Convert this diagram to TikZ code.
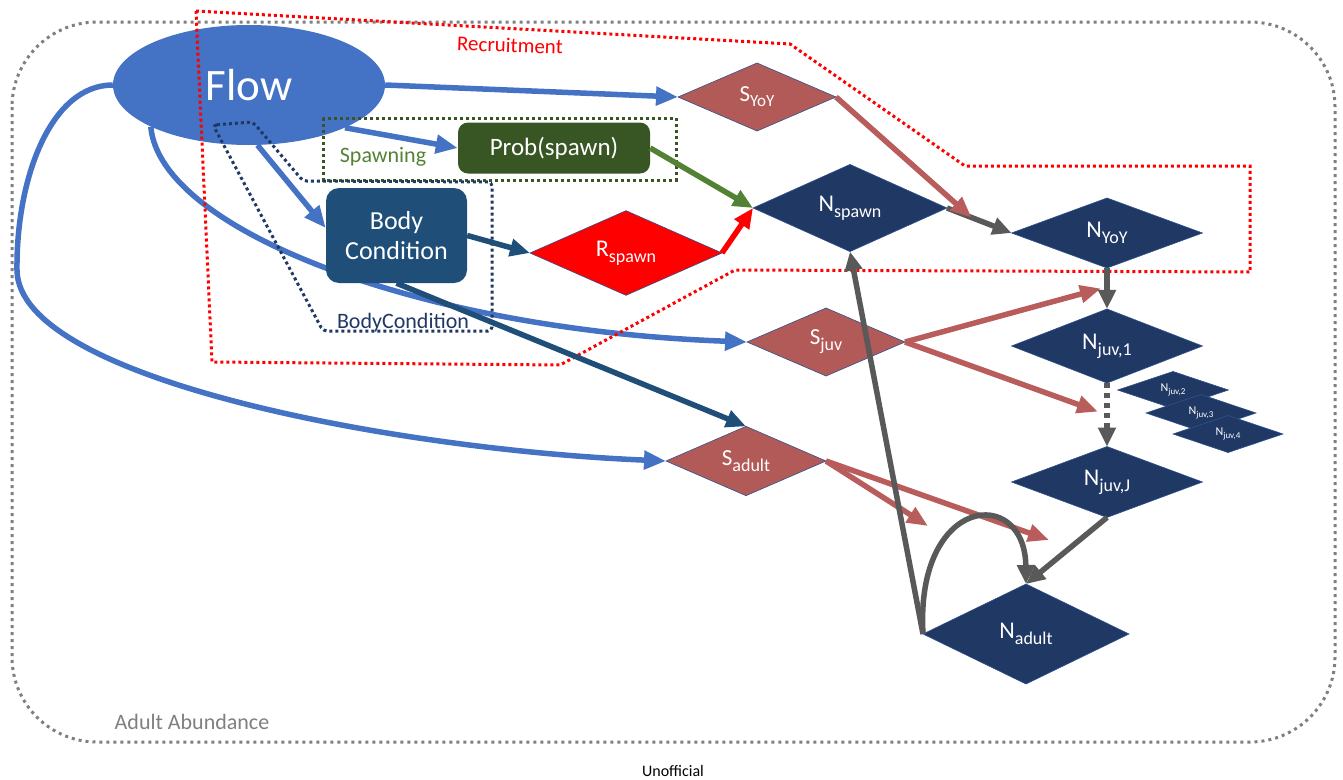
\documentclass[tikz,border=0pt]{standalone}
\usepackage{fontspec}
\setmainfont{Carlito}
\usetikzlibrary{shapes.geometric,arrows.meta,calc}
\pgfdeclarelayer{bg}
\pgfsetlayers{bg,main}
\definecolor{flowblue}{HTML}{4472C4}
\definecolor{bcblue}{HTML}{1F4E79}
\definecolor{navyfill}{HTML}{203864}
\definecolor{probgreen}{HTML}{375623}
\definecolor{lgreen}{HTML}{548235}
\definecolor{sred}{HTML}{B25A58}
\definecolor{arrred}{HTML}{B85C5C}
\definecolor{ggray}{HTML}{595959}
\definecolor{outl}{HTML}{2F528F}
\definecolor{dotgray}{HTML}{7F7F7F}
\newcommand{\vsub}[5]{{\fontsize{#1pt}{#1pt}\selectfont #3}\raisebox{#5}{\fontsize{#2pt}{#2pt}\selectfont #4}}
\begin{document}
\begin{tikzpicture}[x=1pt,y=-1pt,
  diam/.style={diamond, inner sep=0pt, outer sep=0pt, text=white, draw=outl, line width=0.6pt},
  sdiam/.style={diam, fill=sred},
  ndiam/.style={diam, fill=navyfill},
  barrow/.style={draw=flowblue, line width=5.5pt, -{Triangle[length=22pt,width=18pt]}},
  bcarrow/.style={draw=bcblue, line width=5.5pt, -{Triangle[length=20pt,width=17pt]}},
  garrow/.style={draw=ggray, line width=5.5pt, -{Triangle[length=19pt,width=17pt]}},
  rarrow/.style={draw=arrred, line width=5.5pt, -{Triangle[length=21pt,width=17pt]}},
  grnarrow/.style={draw=lgreen, line width=5.5pt, -{Triangle[length=20pt,width=17pt]}},
  redarrow/.style={draw=red, line width=5.5pt, -{Triangle[length=20pt,width=17pt]}},
  dotline/.style={line width=3pt, dash pattern=on 3pt off 3pt},
  lbl/.style={inner sep=0pt}
]
\useasboundingbox (0,0) rectangle (1343,779);

% nodes
\node[ellipse, fill=flowblue, minimum width=272pt, minimum height=120pt, inner sep=0pt, text=white,
      font=\fontsize{45}{45}\selectfont] (flow) at (249,85) {Flow};
\node[rectangle, rounded corners=10pt, fill=probgreen, minimum width=192pt, minimum height=51pt,
      inner sep=0pt, text=white, font=\fontsize{25}{25}\selectfont] (prob) at (554,148) {Prob(spawn)};
\node[rectangle, rounded corners=13pt, fill=bcblue, minimum width=141pt, minimum height=95pt,
      inner sep=0pt, text=white, align=center, font=\fontsize{26}{30}\selectfont] (bc) at (396.5,235.5) {Body\\Condition};

\node[sdiam, minimum width=158pt, minimum height=68pt] (syoy) at (757,97) {\vsub{23}{17}{S}{YoY}{-5pt}};
\node[ndiam, minimum width=194pt, minimum height=68pt] (nspawn) at (850,208) {\vsub{24}{18}{N}{spawn}{-6pt}};
\node[ndiam, minimum width=191pt, minimum height=70pt] (nyoy) at (1107,233) {\vsub{24}{18}{N}{YoY}{-6pt}};
\node[diam, fill=red, minimum width=192pt, minimum height=68pt] (rspawn) at (626,253) {\vsub{24}{18}{R}{spawn}{-6pt}};
\node[sdiam, minimum width=158pt, minimum height=68pt] (sjuv) at (826,342) {\vsub{23}{18}{S}{juv}{-6pt}};
\node[ndiam, minimum width=191pt, minimum height=66pt] (njuv1) at (1107,346) {\vsub{24}{18}{N}{juv,1}{-6pt}};
\node[ndiam, minimum width=191pt, minimum height=70pt] (njuvj) at (1107,482) {\vsub{24}{18}{N}{juv,J}{-6pt}};
\node[sdiam, minimum width=160pt, minimum height=67pt] (sadult) at (746,461) {\vsub{23}{18}{S}{adult}{-6pt}};
\node[ndiam, minimum width=206pt, minimum height=100pt] (nadult) at (1026,634) {\vsub{24}{18}{N}{adult}{-6pt}};
\node[ndiam, minimum width=111pt, minimum height=27pt] (nj2) at (1173,390) {\vsub{12}{9}{N}{juv,2}{-3pt}};
\node[ndiam, minimum width=110pt, minimum height=27pt] (nj3) at (1201,413) {\vsub{12}{9}{N}{juv,3}{-3pt}};
\node[ndiam, minimum width=110pt, minimum height=27pt] (nj4) at (1228,434) {\vsub{12}{9}{N}{juv,4}{-3pt}};

% group outlines
\draw[dotgray, line width=3pt, dash pattern=on 3pt off 4pt, rounded corners=85pt] (12,22) rectangle (1335,742);
\draw[red, dotline] (196,11) -- (790,44) -- (965,166) -- (1250,166) -- (1250,272) -- (735,270) -- (560,365) -- (212,362) -- cycle;
\draw[probgreen, dotline] (323,118) rectangle (676,180);
\draw[navyfill, dotline, rounded corners=4pt] (213,125) -- (253,122) -- (303,181) -- (492,182) -- (492,331) -- (323,331) -- cycle;

% labels
\node[lbl, text=red, rotate=-2, font=\fontsize{21}{21}\selectfont] (reclbl) at (510,45) {Recruitment};
\node[lbl, text=lgreen, font=\fontsize{22}{22}\selectfont] (spawnlbl) at (383,157) {Spawning};
\node[lbl, text=navyfill, font=\fontsize{22}{22}\selectfont] (bclbl) at (403,323) {BodyCondition};
\node[lbl, text=dotgray, font=\fontsize{22}{22}\selectfont] (aalbl) at (192,722) {Adult Abundance};
\node[lbl, text=black, font=\fontsize{16}{16}\selectfont] (unoff) at (673,771) {Unofficial};

% arrows from Flow (behind)
\begin{pgfonlayer}{bg}
\draw[barrow] (flow.east) -- (syoy.west);
\draw[barrow] (flow.-24) -- (prob.west);
\draw[barrow] (flow.-82) -- (bc.174);
\draw[barrow] (flow.203) .. controls (160,230) and (420,330) .. (sjuv.west);
\draw[barrow] (flow.west) .. controls (50,85) and (16,180) .. (17,270) .. controls (18,380) and (400,450) .. (sadult.west);
\end{pgfonlayer}

% other arrows
\coordinate (m1) at ($(nspawn.east)!0.38!(nyoy.west)$);
\coordinate (m2) at ($(nyoy.south)!0.5!(njuv1.north)+(-6,0)$);
\coordinate (m3) at ($(njuv1.south)!0.45!(njuvj.north)+(-9,0)$);
\coordinate (m4) at (928,526);
\coordinate (m5) at (1049,540);

\draw[bcarrow] (bc.east) -- (rspawn.west);
\draw[bcarrow] (bc.south) -- (sadult.north);
\draw[grnarrow] (prob.east) -- (nspawn.west);
\draw[redarrow] (rspawn.east) -- (nspawn.west);

\draw[rarrow] (sjuv.east) -- (m2);
\draw[rarrow] (sjuv.east) -- (m3);
\draw[rarrow] (sadult.east) -- (m4);
\draw[rarrow] (sadult.east) -- (m5);

\draw[garrow] (nspawn.east) -- (nyoy.west);
\draw[rarrow] (syoy.east) -- (m1);
\draw[garrow] (nyoy.south) -- (njuv1.north);
\draw[garrow, dash pattern=on 5pt off 5pt] (njuv1.south) -- (njuvj.north);
\draw[garrow] (njuvj.south) -- (nadult.north);
\draw[garrow] (nadult.west) -- (nspawn.south);
\draw[garrow] (nadult.west) .. controls (915,495) and (1025,485) .. (nadult.north);
\end{tikzpicture}
\end{document}
